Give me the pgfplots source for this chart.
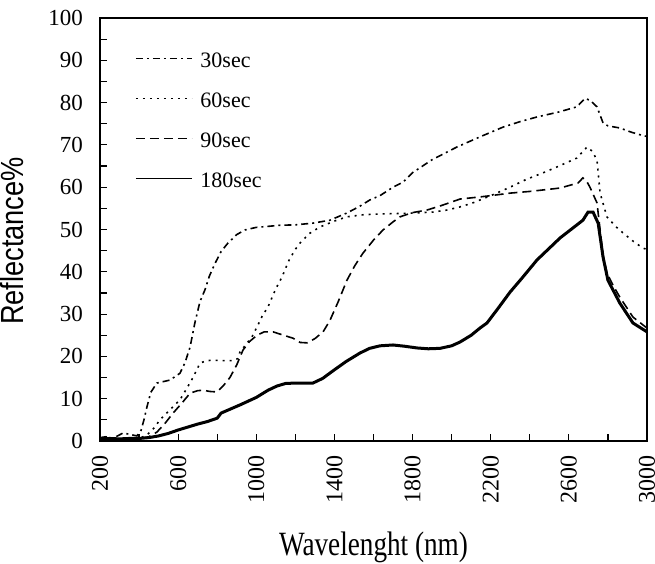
\documentclass[border=0pt]{standalone}
\usepackage{fontspec}
\setmainfont{Liberation Serif}
\newfontfamily\labelfont[FakeStretch=0.8]{Liberation Serif}
\newfontfamily\ylabfont[FakeStretch=0.85]{Liberation Sans}
\usepackage{pgfplots}
\pgfplotsset{compat=1.18}

\begin{document}
\begin{tikzpicture}
\begin{axis}[
  at={(0,0)}, anchor=south west,
  scale only axis, width=273.5bp, height=211.5bp,
  xmin=200, xmax=3000, ymin=0, ymax=100,
  xtick={200,600,...,3000}, minor xtick={400,800,...,2800},
  ytick={0,10,...,100}, minor ytick={5,15,...,95},
  tick align=inside, xtick pos=bottom, ytick pos=left,
  major tick length=3.5bp, minor tick length=3.5bp,
  tick style={black, line width=0.6bp},
  axis line style={line width=0.8bp},
  /pgf/number format/assume math mode=true,
  /pgf/number format/set thousands separator={},
  yticklabel style={font=\fontsize{11.5bp}{13bp}\selectfont},
  xticklabel style={rotate=90, anchor=east, font=\fontsize{12bp}{14bp}\selectfont},
  xticklabel shift=3.5bp,
  yticklabel shift=5bp,
  xlabel={\labelfont\fontsize{17bp}{20bp}\selectfont Wavelenght (nm)},
  xlabel style={at={(axis description cs:0.5,0)}, anchor=base, yshift=-57bp},
  legend style={at={(axis description cs:0,1)}, anchor=north west,
    xshift=17.5bp, yshift=-15.5bp, draw=none, fill=none, inner sep=0pt,
    row sep=10bp, column sep=0pt,
    nodes={inner sep=1bp, text height=8bp, text depth=0bp,
      font=\fontsize{11bp}{13bp}\selectfont}},
  legend cell align=left,
  legend image code/.code={\draw[#1, line width=0.6bp] (0bp,0.5bp) -- (28bp,0.5bp);
    \path (30.5bp,0.5bp);},
]
% 30sec
\addplot[black, line width=0.8bp, dash pattern=on 3.5bp off 2bp on 1bp off 2bp] coordinates {
(200,0.8)(230,1.0)(260,0.6)(290,1.2)(318,1.9)(350,1.6)(389,1.2)(410,2.5)(425,5)(440,8)(460,11.5)(491,13.7)(520,14)(558,14.4)(609,16)(635,18.5)(661,22.2)(686,28)(712,33)(737,35.7)(760,39)(789,42)(820,44.8)(855,46.8)(900,48.8)(942,49.9)(1000,50.5)(1050,50.7)(1121,51)(1200,51.1)(1290,51.5)(1377,52.2)(1464,53.9)(1530,55.5)(1582,57)(1633,58)(1700,60)(1751,61.2)(1802,63.5)(1900,66.5)(2027,69.5)(2150,72)(2263,74.2)(2350,75.5)(2437,76.6)(2550,77.8)(2641,79)(2683,81)(2710,80.5)(2744,79)(2775,75.2)(2800,74.5)(2861,74)(2920,73)(2979,72.2)(3000,72)
};
\addlegendentry{30sec}
% 60sec
\addplot[black, line width=0.8bp, dash pattern=on 1bp off 2.5bp] coordinates {
(200,0.3)(300,0.3)(400,0.6)(440,1.4)(475,3)(507,5)(560,7.5)(609,9.7)(645,12.5)(676,15)(712,18.4)(745,19)(778,19.1)(830,19)(881,19)(906,19.5)(916,21)(950,23)(978,24.6)(1004,27)(1030,29.5)(1060,31.7)(1100,36)(1132,38.8)(1165,42.5)(1198,45.2)(1224,46.8)(1270,49)(1326,50.6)(1400,52)(1464,53)(1550,53.5)(1650,53.7)(1750,53.8)(1802,53.9)(1900,54.1)(1976,54.6)(2040,55.3)(2109,56.3)(2200,58)(2299,60)(2380,61.8)(2468,63.4)(2550,65)(2641,66.9)(2693,69.5)(2720,68.5)(2744,66.4)(2760,58.6)(2795,53)(2840,50.7)(2877,49.2)(2930,47.2)(2979,45.6)(3000,45.3)
};
\addlegendentry{60sec}
% 90sec
\addplot[black, line width=0.8bp, dash pattern=on 4.5bp off 2.5bp] coordinates {
(200,0.3)(300,0.4)(400,0.5)(450,1)(491,2.1)(530,4)(574,6.6)(620,9)(661,11.3)(700,11.9)(727,12)(765,11.7)(799,11.6)(830,13)(865,15)(900,18)(932,21.5)(965,23.5)(1004,25)(1040,25.8)(1086,25.8)(1140,25)(1188,24.3)(1224,23.3)(1260,23.2)(1300,24.2)(1342,25.8)(1377,28.5)(1420,33)(1464,38)(1505,41.5)(1546,44.4)(1600,47.5)(1649,49.9)(1700,51.8)(1736,53)(1800,54)(1874,54.6)(1950,55.7)(2043,57.2)(2145,57.7)(2200,58)(2299,58.6)(2400,59)(2555,59.8)(2647,61)(2672,62.2)(2690,61.5)(2708,60)(2744,56.3)(2760,49.9)(2775,44)(2795,39.7)(2830,36.5)(2861,34)(2928,29.3)(3000,26.7)
};
\addlegendentry{90sec}
% 180sec
\addplot[black, line width=1.5bp] coordinates {
(200,0.5)(250,0.6)(300,0.5)(350,0.6)(400,0.6)(450,0.8)(500,1.2)(550,1.8)(600,2.6)(650,3.3)(700,4)(750,4.6)(800,5.4)(820,6.6)(870,7.6)(920,8.6)(1000,10.3)(1060,12)(1106,13)(1150,13.6)(1200,13.7)(1290,13.7)(1340,14.8)(1393,16.6)(1460,18.8)(1531,20.8)(1580,21.9)(1633,22.5)(1700,22.7)(1760,22.4)(1822,22)(1880,21.8)(1940,21.9)(2000,22.5)(2043,23.4)(2100,25)(2145,26.7)(2181,27.9)(2240,31.5)(2299,35.2)(2360,38.5)(2437,42.8)(2555,48)(2672,52.2)(2698,54.1)(2724,54.1)(2750,51.5)(2775,43.5)(2800,38)(2861,32.6)(2928,27.9)(3000,25.8)
};
\addlegendentry{180sec}
\end{axis}
\node[rotate=90, anchor=base, inner sep=0pt, font=\ylabfont\fontsize{16bp}{18bp}\selectfont] at (-38.5bp,100bp) {Reflectance\%};
\pgfresetboundingbox
\path[use as bounding box] (-50bp,-61.5bp) rectangle (277.5bp,220.5bp);
\end{tikzpicture}
\end{document}
